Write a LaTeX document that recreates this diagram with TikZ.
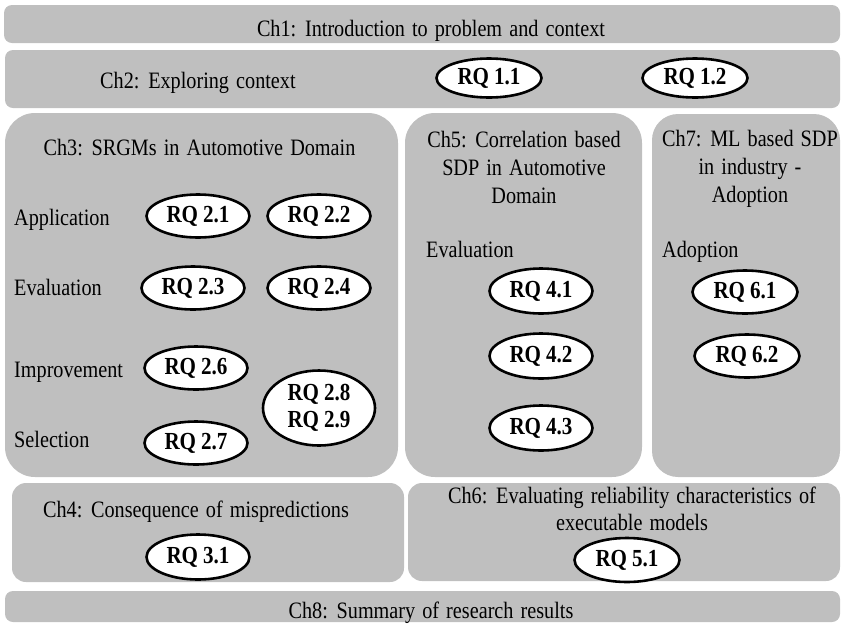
\documentclass[tikz,border=0pt]{standalone}
\usepackage{fontspec}
\setmainfont{Liberation Serif}[FakeStretch=0.86, WordSpace=1.4]
\usetikzlibrary{shapes.geometric}

\definecolor{panelgray}{RGB}{191,191,191}

% bold label font with plain word spacing
\newcommand{\rqfont}{\fontsize{24.5}{27}\selectfont\bfseries\spaceskip=5pt plus 1pt\relax}

\tikzset{
  panel/.style={fill=panelgray, draw=none, inner sep=0pt, rounded corners=#1},
  panel/.default=8pt,
  txt/.style={inner sep=0pt, font=\fontsize{23.5}{28}\selectfont},
  rq/.style={ellipse, draw=black, line width=2.6pt, fill=white, inner sep=0pt,
    minimum width=103pt, minimum height=43pt, font=\rqfont, align=center},
}

\begin{document}
\begin{tikzpicture}[x=1pt,y=-1pt]
\useasboundingbox (0,0) rectangle (841,625);

% chapter panels
\node[panel, minimum width=836pt, minimum height=38pt] (ch1) at (422,24) {};
\node[panel, minimum width=835pt, minimum height=58pt] (ch2) at (422.5,79) {};
\node[panel=30pt, minimum width=393pt, minimum height=364pt] (ch3) at (201.5,295) {};
\node[panel=30pt, minimum width=237pt, minimum height=364pt] (ch5) at (523.5,295) {};
\node[panel=26pt, minimum width=188pt, minimum height=363pt] (ch7) at (746,295.5) {};
\node[panel=14pt, minimum width=392pt, minimum height=99pt] (ch4) at (208,532.5) {};
\node[panel=14pt, minimum width=432pt, minimum height=98pt] (ch6) at (624,532) {};
\node[panel, minimum width=835pt, minimum height=31pt] (ch8) at (422.5,606.5) {};

% chapter titles
\node[txt, anchor=base] (t1) at (431,36) {Ch1: Introduction to problem and context};
\node[txt, anchor=base west] (t2) at (100,88) {Ch2: Exploring context};
\node[txt, anchor=base] (t3) at (199.5,155) {Ch3: SRGMs in Automotive Domain};
\node[txt, anchor=base] (t5a) at (524,147) {Ch5: Correlation based};
\node[txt, anchor=base] (t5b) at (524,175) {SDP in Automotive};
\node[txt, anchor=base] (t5c) at (524,203) {Domain};
\node[txt, anchor=base] (t7a) at (750,146) {Ch7: ML based SDP};
\node[txt, anchor=base] (t7b) at (750,174) {in industry -};
\node[txt, anchor=base] (t7c) at (750,202) {Adoption};
\node[txt, anchor=base] (t4) at (196,517) {Ch4: Consequence of mispredictions};
\node[txt, anchor=base] (t6a) at (632,503) {Ch6: Evaluating reliability characteristics of};
\node[txt, anchor=base] (t6b) at (632,530) {executable models};
\node[txt, anchor=base] (t8) at (431,618) {Ch8: Summary of research results};

% row labels
\node[txt, anchor=base west] (lapp) at (14,225) {Application};
\node[txt, anchor=base west] (leval) at (14,295) {Evaluation};
\node[txt, anchor=base west] (limp) at (14,377) {Improvement};
\node[txt, anchor=base west] (lsel) at (14,447) {Selection};
\node[txt, anchor=base west] (leval5) at (426,257) {Evaluation};
\node[txt, anchor=base west] (ladopt) at (662,257) {Adoption};

% research questions
\node[rq, minimum width=105pt, minimum height=39pt] (rq11) at (489,78) {RQ 1.1};
\node[rq, minimum width=105pt, minimum height=39pt] (rq12) at (695,78) {RQ 1.2};
\node[rq] (rq21) at (198,216) {RQ 2.1};
\node[rq] (rq22) at (319,216) {RQ 2.2};
\node[rq] (rq23) at (193,288) {RQ 2.3};
\node[rq] (rq24) at (319,288) {RQ 2.4};
\node[rq] (rq26) at (196,368) {RQ 2.6};
\node[rq] (rq27) at (196,443) {RQ 2.7};
\node[rq, minimum width=112pt, minimum height=75pt] (rq289) at (319,408) {RQ 2.8\\RQ 2.9};
\node[rq, minimum height=45pt] (rq41) at (541,291) {RQ 4.1};
\node[rq, minimum height=45pt] (rq42) at (541,356) {RQ 4.2};
\node[rq, minimum height=45pt] (rq43) at (541,428) {RQ 4.3};
\node[rq, minimum width=105pt] (rq61) at (745,292) {RQ 6.1};
\node[rq, minimum width=105pt] (rq62) at (747,356) {RQ 6.2};
\node[rq, minimum height=45pt] (rq31) at (198,557) {RQ 3.1};
\node[rq, minimum width=105pt, minimum height=44pt] (rq51) at (627,560) {RQ 5.1};
\end{tikzpicture}
\end{document}
